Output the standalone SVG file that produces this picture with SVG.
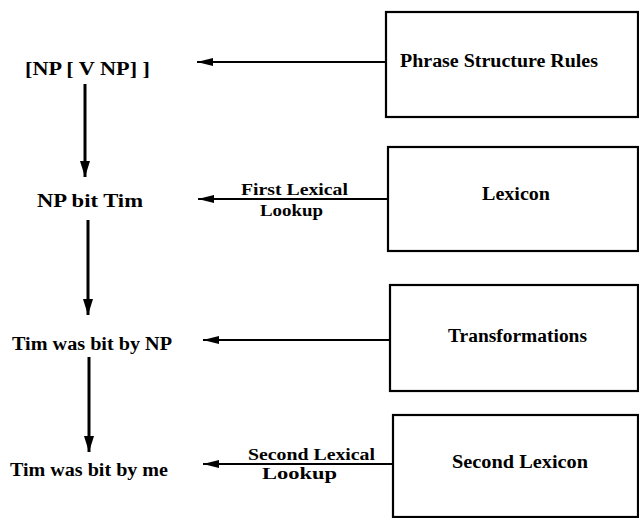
<svg xmlns="http://www.w3.org/2000/svg" width="639" height="518" viewBox="0 0 639 518">
<style>
text{font-family:"Liberation Serif","Times New Roman",serif;font-weight:bold;font-size:18px;fill:#000}
text.lbl{font-size:16.5px}
.box{fill:#fff;stroke:#000;stroke-width:2.2}
.h{stroke:#000;stroke-width:2;fill:none}
.v{stroke:#000;stroke-width:3;fill:none}
</style>
<defs>
<marker id="ah" viewBox="0 0 16 8" refX="16" refY="4" markerWidth="16" markerHeight="8" markerUnits="userSpaceOnUse" orient="auto">
<path d="M0,0 L16,4 L0,8 Z" fill="#000"/>
</marker>
<marker id="av" viewBox="0 0 16 10" refX="16" refY="5" markerWidth="16" markerHeight="10" markerUnits="userSpaceOnUse" orient="auto">
<path d="M0,0 L16,5 L0,10 Z" fill="#000"/>
</marker>
</defs>
<rect width="639" height="518" fill="#fff"/>
<g id="connectors">
<line class="h" x1="386" y1="62" x2="197" y2="62" marker-end="url(#ah)"/>
<line class="h" x1="388" y1="199" x2="198" y2="199" marker-end="url(#ah)"/>
<line class="h" x1="390" y1="340" x2="203" y2="340" marker-end="url(#ah)"/>
<line class="h" x1="393" y1="464" x2="203" y2="464" marker-end="url(#ah)"/>
<line class="v" x1="85" y1="84" x2="85" y2="177" marker-end="url(#av)"/>
<line class="v" x1="88" y1="220" x2="88" y2="315" marker-end="url(#av)"/>
<line class="v" x1="89" y1="357" x2="89" y2="452" marker-end="url(#av)"/>
<text class="lbl" x="241" y="195" textLength="107" lengthAdjust="spacingAndGlyphs">First Lexical</text>
<text class="lbl" x="260" y="216" textLength="63" lengthAdjust="spacingAndGlyphs">Lookup</text>
<text class="lbl" x="248" y="460" textLength="127" lengthAdjust="spacingAndGlyphs">Second Lexical</text>
<text class="lbl" x="262" y="479" textLength="75" lengthAdjust="spacingAndGlyphs">Lookup</text>
</g>
<g id="n_psr">
<rect class="box" x="386" y="12" width="252" height="105"/>
<text x="400" y="67" textLength="198" lengthAdjust="spacingAndGlyphs">Phrase Structure Rules</text>
</g>
<g id="n_lexicon">
<rect class="box" x="388" y="147" width="250" height="104"/>
<text x="482" y="200" textLength="68" lengthAdjust="spacingAndGlyphs">Lexicon</text>
</g>
<g id="n_trans">
<rect class="box" x="390" y="285" width="248" height="106"/>
<text x="448" y="342" textLength="139" lengthAdjust="spacingAndGlyphs">Transformations</text>
</g>
<g id="n_lex2">
<rect class="box" x="393" y="415" width="245" height="102"/>
<text x="452" y="468" textLength="136" lengthAdjust="spacingAndGlyphs">Second Lexicon</text>
</g>
<g id="n_s1">
<text x="25" y="75" textLength="125" lengthAdjust="spacingAndGlyphs">[NP [ V NP] ]</text>
</g>
<g id="n_s2">
<text x="37" y="207" textLength="106" lengthAdjust="spacingAndGlyphs">NP bit Tim</text>
</g>
<g id="n_s3">
<text x="12" y="350" textLength="160" lengthAdjust="spacingAndGlyphs">Tim was bit by NP</text>
</g>
<g id="n_s4">
<text x="10" y="476" textLength="158" lengthAdjust="spacingAndGlyphs">Tim was bit by me</text>
</g>
</svg>
